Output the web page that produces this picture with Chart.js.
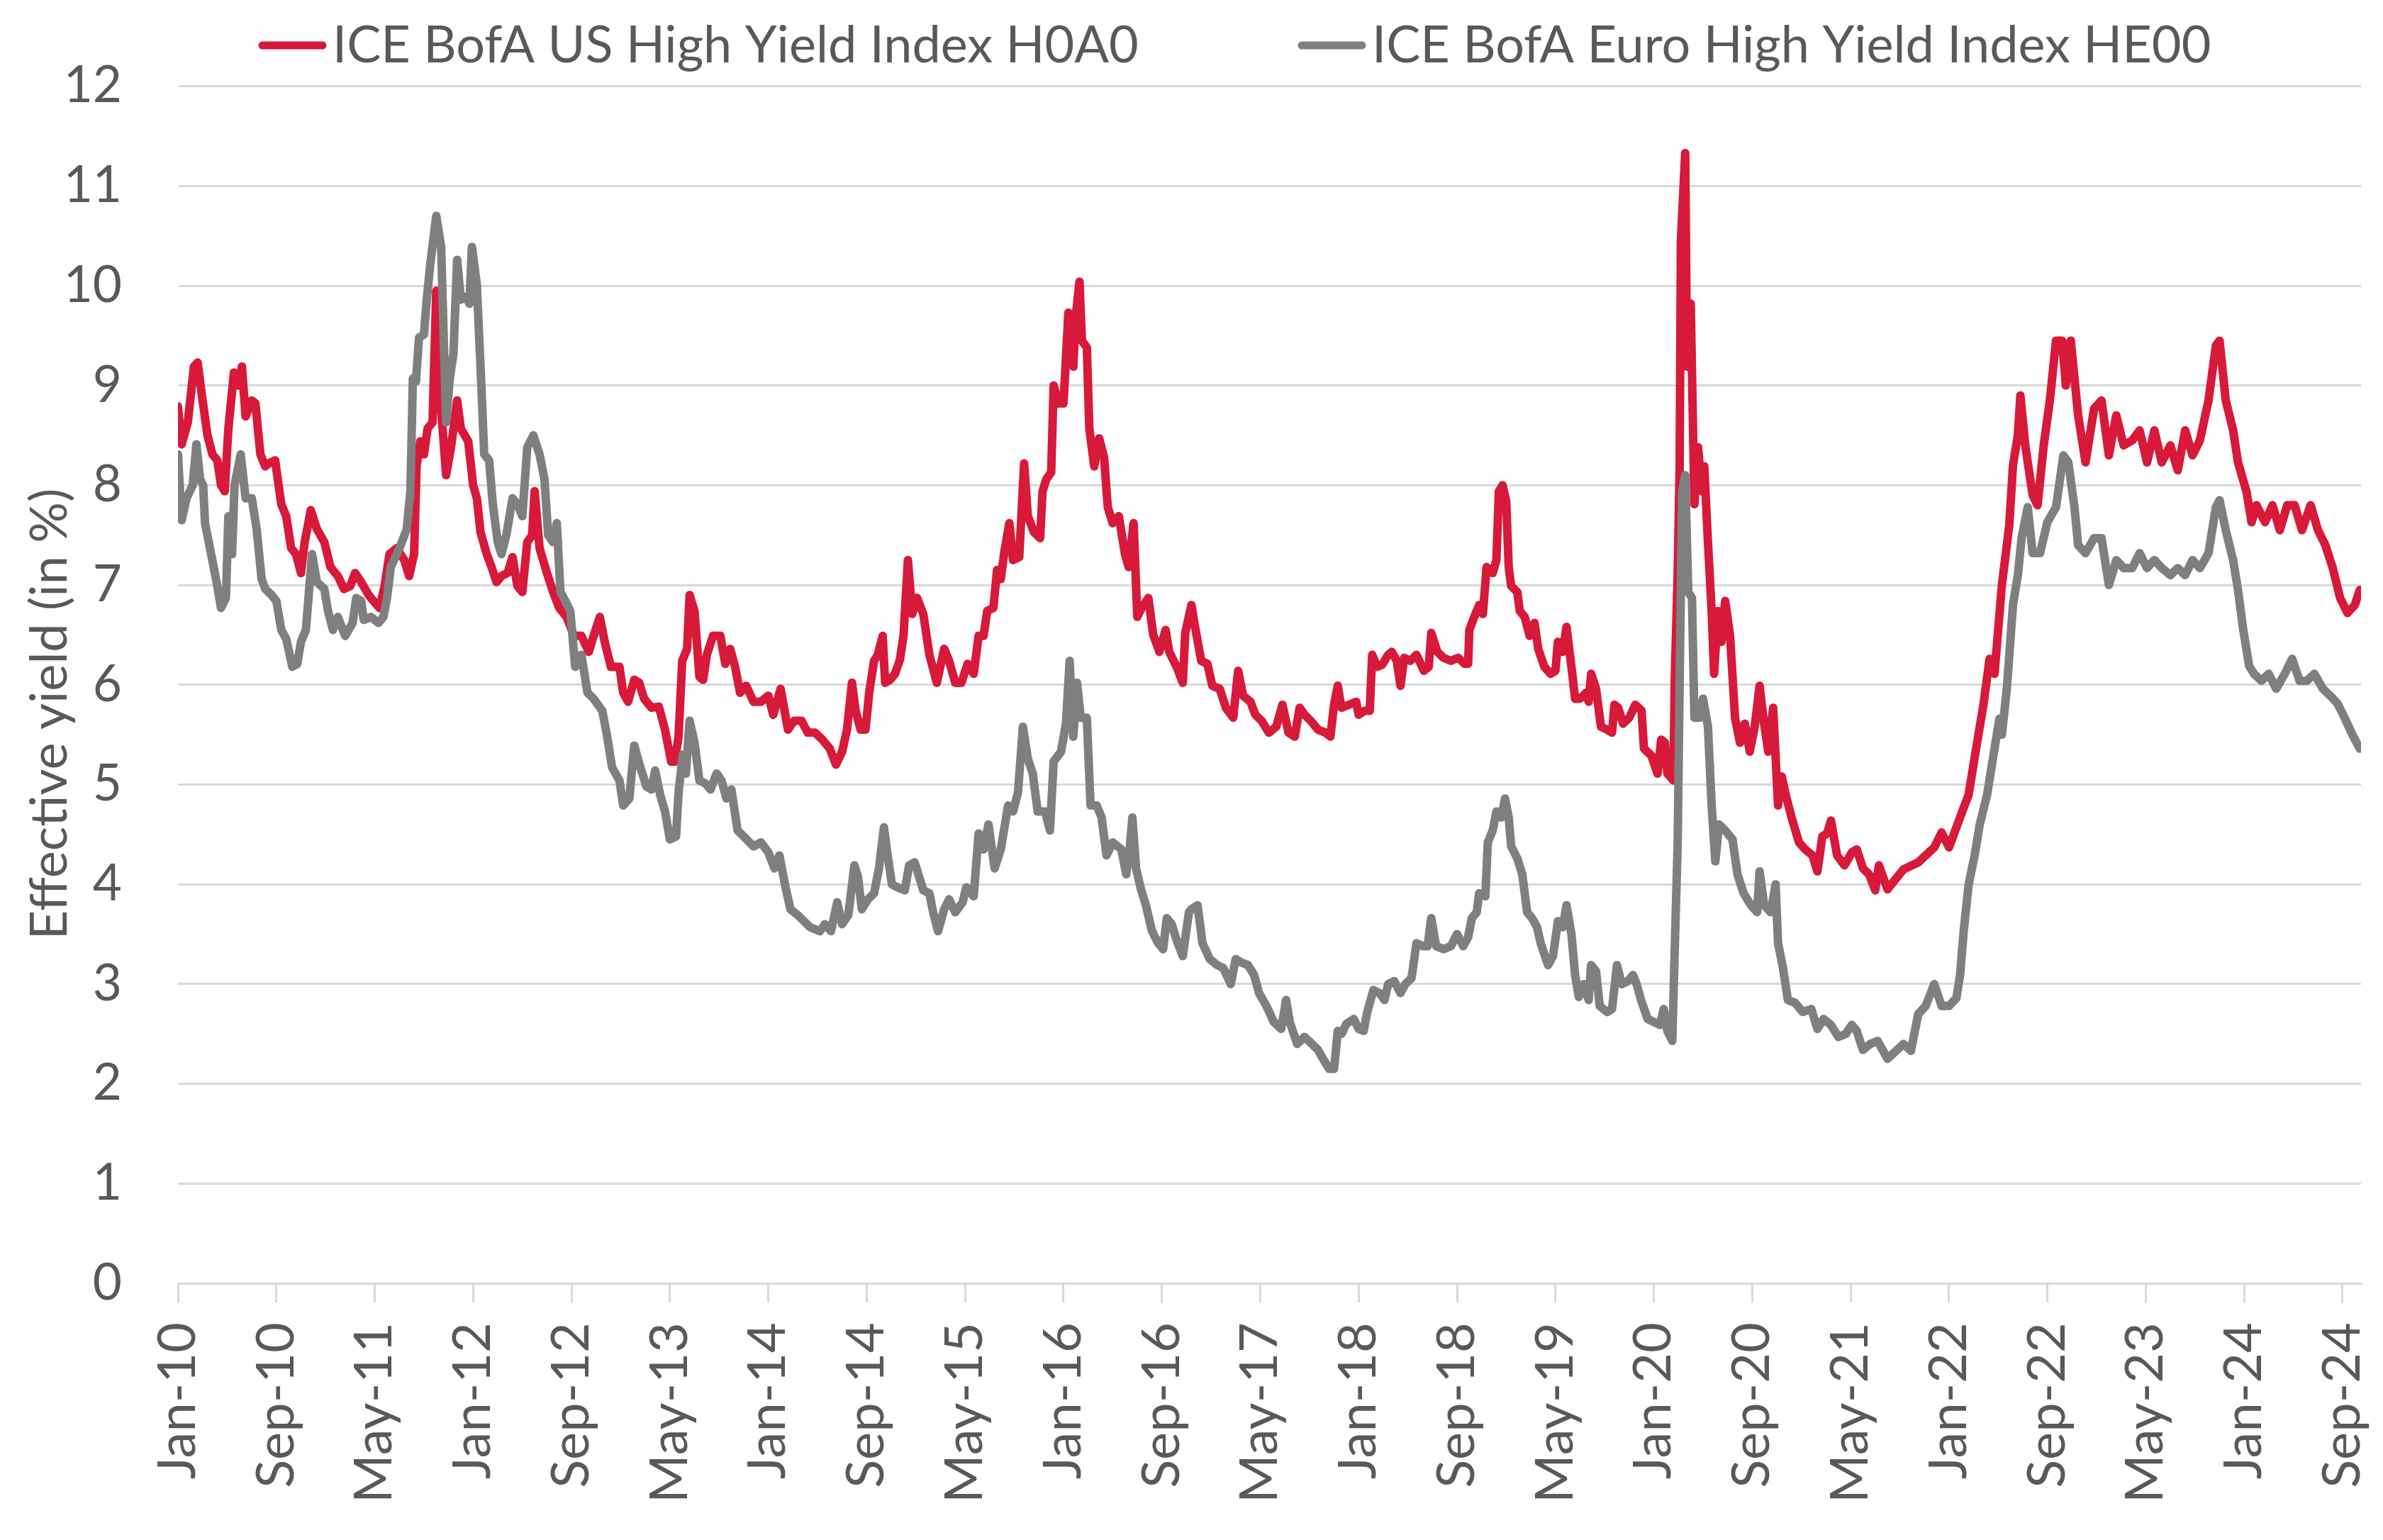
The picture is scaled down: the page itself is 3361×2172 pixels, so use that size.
<!DOCTYPE html>
<html>
<head>
<meta charset="utf-8">
<script src="https://cdn.jsdelivr.net/npm/chart.js@4.4.1/dist/chart.umd.min.js"></script>
<style>
  html, body { margin: 0; padding: 0; background: #ffffff; }
  #wrap { width: 3361px; height: 2172px; position: relative; }
</style>
</head>
<body>
<div id="wrap"><canvas id="c"></canvas></div>
<script>
// ---- Data (months since Jan 2010, yield in %) ----
const tickLabels = ['Jan-10','Sep-10','May-11','Jan-12','Sep-12','May-13','Jan-14','Sep-14','May-15','Jan-16','Sep-16','May-17','Jan-18','Sep-18','May-19','Jan-20','Sep-20','May-21','Jan-22','Sep-22','May-23','Jan-24','Sep-24'];
const seriesNames = ['ICE BofA US High Yield Index H0A0', 'ICE BofA Euro High Yield Index HE00'];
const axisTitle = 'Effective yield (in %)';

const usMonths = [0,0.3,0.8,1.3,1.6,2.0,2.4,2.8,3.2,3.5,3.8,4.1,4.55,4.9,5.2,5.5,6.0,6.3,6.7,7.1,7.4,7.9,8.4,8.8,9.2,9.6,10.0,10.3,10.8,11.3,11.9,12.4,13.0,13.5,14.0,14.4,14.9,15.5,15.9,16.4,16.8,17.2,17.8,18.4,18.8,19.2,19.4,19.7,20.0,20.3,20.7,21.0,21.2,21.6,21.8,22.2,22.7,23.0,23.6,24.0,24.3,24.6,25.1,25.5,25.9,26.3,26.8,27.2,27.6,28.0,28.4,28.8,29.0,29.4,30.0,30.5,31.0,31.6,32.2,32.8,33.4,33.8,34.3,34.7,35.2,35.9,36.2,36.6,37.1,37.5,37.9,38.5,39.1,39.6,40.1,40.4,40.7,41.0,41.4,41.6,42.0,42.4,42.7,43.0,43.5,44.1,44.5,44.9,45.3,45.7,46.2,46.8,47.4,48.0,48.4,49.0,49.6,50.1,50.7,51.2,51.8,52.4,53.0,53.5,54.0,54.4,54.8,55.1,55.5,55.9,56.2,56.6,56.9,57.3,57.5,57.9,58.3,58.7,59.0,59.35,59.7,60.1,60.6,61.1,61.7,62.3,62.7,63.2,63.7,64.2,64.7,65.1,65.5,65.8,66.3,66.6,66.9,67.2,67.6,67.9,68.4,68.8,69.1,69.6,70.1,70.3,70.6,71.0,71.2,71.6,72.0,72.4,72.8,73.0,73.3,73.5,73.9,74.1,74.5,74.9,75.3,75.6,76.0,76.5,77.0,77.3,77.7,78.0,78.4,78.9,79.3,79.8,80.3,80.6,81.2,81.7,81.9,82.4,82.7,83.2,83.7,84.1,84.7,85.2,85.8,86.2,86.6,87.2,87.6,88.1,88.7,89.3,89.8,90.3,90.8,91.2,91.6,92.1,92.7,93.3,93.7,94.0,94.3,94.6,95.2,95.8,96.0,96.5,96.9,97.1,97.5,97.9,98.4,98.7,99.1,99.4,99.7,100.2,100.7,101.3,101.7,101.9,102.4,102.9,103.5,104.1,104.6,104.9,105.0,105.4,105.8,106.1,106.4,106.9,107.2,107.4,107.7,108.0,108.2,108.4,108.9,109.1,109.5,109.9,110.3,110.6,111.1,111.6,112.0,112.2,112.6,112.9,113.3,113.6,114.0,114.5,114.7,114.9,115.3,115.7,116.2,116.6,116.8,117.1,117.5,118.0,118.5,119.0,119.2,119.8,120.3,120.6,120.9,121.1,121.6,121.7,121.94,122.1,122.2,122.55,122.7,123.0,123.3,123.6,123.9,124.1,124.4,124.7,124.9,125.2,125.5,125.8,126.2,126.6,127.0,127.4,127.8,128.2,128.6,128.9,129.3,129.7,130.1,130.4,130.8,131.2,131.8,132.3,132.9,133.3,133.7,134.1,134.4,134.9,135.5,136.1,136.5,137.0,137.5,138.0,138.3,139.0,140.3,141.5,142.8,143.4,144.0,144.9,145.6,146.2,146.8,147.3,147.7,148.3,148.9,149.2,149.6,149.8,150.2,150.8,151.2,151.7,152.2,152.7,153.2,153.5,153.9,154.5,155.1,155.8,156.4,157.0,157.6,158.2,158.9,159.5,160.1,160.7,161.3,162.0,162.6,163.2,163.8,164.4,165.1,165.7,166.0,166.5,167.1,167.5,168.2,168.6,169.0,169.7,170.3,170.9,171.5,172.1,172.7,173.4,174.0,174.6,175.2,175.8,176.4,177.0,177.4];
const usYields = [8.79,8.41,8.63,9.19,9.23,8.85,8.5,8.31,8.25,8.0,7.94,8.57,9.13,9.0,9.19,8.69,8.85,8.82,8.31,8.19,8.22,8.25,7.81,7.69,7.37,7.31,7.12,7.43,7.75,7.56,7.43,7.18,7.09,6.96,6.99,7.12,7.03,6.9,6.84,6.77,6.99,7.31,7.37,7.25,7.09,7.31,8.19,8.44,8.31,8.57,8.63,9.95,9.07,8.44,8.1,8.38,8.85,8.57,8.44,8.0,7.87,7.53,7.31,7.18,7.03,7.09,7.12,7.28,6.99,6.93,7.43,7.5,7.94,7.37,7.12,6.93,6.77,6.68,6.49,6.49,6.33,6.49,6.68,6.43,6.18,6.18,5.92,5.83,6.05,6.02,5.86,5.77,5.78,5.55,5.23,5.23,5.48,6.24,6.36,6.9,6.74,6.08,6.05,6.3,6.49,6.49,6.21,6.36,6.18,5.92,5.99,5.83,5.83,5.89,5.7,5.96,5.55,5.64,5.64,5.52,5.52,5.45,5.36,5.2,5.33,5.55,6.02,5.74,5.55,5.55,5.92,6.24,6.3,6.49,6.02,6.05,6.11,6.25,6.5,7.25,6.71,6.87,6.71,6.3,6.02,6.36,6.24,6.02,6.02,6.21,6.11,6.49,6.49,6.74,6.77,7.15,7.06,7.34,7.62,7.25,7.28,8.22,7.69,7.53,7.47,7.94,8.06,8.13,9.0,8.82,8.82,9.73,9.19,9.7,10.04,9.45,9.38,8.57,8.19,8.47,8.28,7.78,7.62,7.69,7.31,7.18,7.62,6.68,6.78,6.87,6.5,6.33,6.55,6.33,6.18,6.02,6.52,6.8,6.58,6.24,6.21,5.99,5.96,5.77,5.67,6.14,5.89,5.83,5.7,5.64,5.52,5.58,5.8,5.52,5.48,5.77,5.7,5.64,5.55,5.52,5.48,5.8,5.99,5.77,5.8,5.83,5.7,5.74,5.74,6.3,6.18,6.2,6.3,6.33,6.24,5.99,6.27,6.24,6.3,6.14,6.18,6.52,6.33,6.27,6.24,6.27,6.21,6.21,6.55,6.68,6.8,6.71,7.18,7.12,7.25,7.94,8.0,7.84,7.18,6.99,6.93,6.74,6.68,6.49,6.62,6.36,6.18,6.11,6.14,6.43,6.33,6.58,6.18,5.86,5.86,5.92,5.83,6.11,5.96,5.58,5.55,5.52,5.8,5.77,5.61,5.67,5.8,5.74,5.36,5.29,5.11,5.45,5.42,5.11,5.04,6.05,7.12,8.19,10.45,11.33,9.19,9.82,7.81,8.38,7.94,8.19,7.43,6.74,6.11,6.74,6.43,6.84,6.49,5.67,5.42,5.61,5.33,5.58,5.99,5.67,5.33,5.77,4.79,5.08,4.86,4.67,4.42,4.35,4.29,4.13,4.48,4.51,4.64,4.29,4.19,4.32,4.35,4.16,4.1,3.94,4.19,3.95,4.15,4.22,4.37,4.52,4.37,4.67,4.9,5.36,5.8,6.26,6.11,7.0,7.6,8.2,8.5,8.9,8.4,7.9,7.8,8.4,8.85,9.45,9.45,9.0,9.45,8.7,8.23,8.77,8.85,8.3,8.7,8.4,8.45,8.55,8.23,8.55,8.23,8.4,8.15,8.55,8.3,8.45,8.85,9.4,9.45,8.85,8.55,8.23,7.93,7.63,7.8,7.63,7.8,7.55,7.8,7.8,7.55,7.8,7.55,7.4,7.17,6.87,6.72,6.8,6.95];

const euMonths = [0,0.3,0.7,1.2,1.5,1.8,2.05,2.2,2.6,3.0,3.2,3.5,3.9,4.1,4.4,4.6,5.1,5.5,6.0,6.4,6.8,7.1,7.6,8.0,8.4,8.8,9.3,9.7,10.0,10.4,10.9,11.3,11.9,12.2,12.6,13.0,13.6,14.2,14.5,14.9,15.1,15.7,16.3,16.7,17.0,17.3,17.8,18.2,18.6,18.9,19.1,19.35,19.6,20.0,20.2,20.5,21.0,21.4,21.6,21.8,22.1,22.4,22.7,23.0,23.4,23.7,23.9,24.3,24.6,24.9,25.3,25.6,26.0,26.3,26.7,27.2,27.6,28.0,28.4,28.9,29.4,29.8,30.1,30.5,30.8,31.1,31.5,31.9,32.3,32.8,33.3,33.8,34.5,34.9,35.3,35.9,36.2,36.7,37.1,37.6,38.1,38.5,38.8,39.2,39.6,40.0,40.5,40.7,41.05,41.3,41.6,42.0,42.4,42.9,43.3,43.8,44.2,44.6,45.0,45.5,46.0,46.8,47.4,48.0,48.5,48.9,49.4,49.8,50.4,50.9,51.4,52.2,52.6,53.1,53.6,54.0,54.5,55.0,55.3,55.6,56.1,56.6,57.0,57.4,57.7,58.05,58.5,59.1,59.45,59.9,60.6,61.1,61.4,61.8,62.3,62.7,63.2,63.8,64.1,64.7,65.1,65.5,65.9,66.4,66.9,67.5,67.9,68.3,68.7,69.1,69.5,69.9,70.5,70.9,71.2,71.8,72.2,72.5,72.8,73.1,73.4,73.9,74.2,74.7,75.1,75.5,76.0,76.7,77.1,77.4,77.6,77.9,78.3,78.7,79.2,79.7,80.1,80.4,80.8,81.2,81.7,82.2,82.4,82.9,83.3,83.9,84.5,85.0,85.6,86.0,86.4,87.0,87.5,87.9,88.5,89.1,89.7,90.1,90.4,91.0,91.6,92.2,92.7,93.1,93.6,94.0,94.3,94.6,95.0,95.6,96.0,96.4,96.7,97.2,97.7,98.1,98.4,98.9,99.4,99.8,100.3,100.7,101.2,101.6,101.9,102.3,102.9,103.5,104.0,104.5,104.9,105.2,105.6,105.8,106.3,106.5,106.9,107.2,107.6,107.9,108.2,108.4,108.9,109.3,109.7,110.1,110.5,110.8,111.4,111.8,112.2,112.6,112.9,113.3,113.6,113.9,114.3,114.7,114.9,115.3,115.6,116.2,116.6,117.0,117.4,117.9,118.3,118.6,118.96,119.5,120.0,120.5,120.8,121.1,121.5,121.7,121.94,122.1,122.3,122.55,122.8,123.1,123.3,123.7,124.0,124.4,124.7,125.0,125.3,125.8,126.4,126.8,127.3,127.9,128.4,128.6,128.97,129.5,129.9,130.1,130.5,130.9,131.5,132.1,132.8,133.3,133.8,134.4,135.0,135.6,136.1,136.5,137.0,137.6,138.2,139.0,140.3,140.9,141.5,142.1,142.8,143.4,144.0,144.6,144.9,145.2,145.6,146.1,146.5,147.1,147.7,148.1,148.3,148.7,149.2,149.6,149.9,150.4,150.8,151.4,152.0,152.7,153.3,153.7,154.2,154.5,155.1,155.8,156.4,157.0,157.6,158.2,158.9,159.5,160.1,160.7,161.3,162.0,162.6,163.2,163.8,164.4,165.1,165.7,166.0,166.5,167.1,167.5,167.9,168.4,168.8,169.4,170.0,170.6,171.3,171.9,172.5,173.1,173.7,174.4,175.0,175.6,176.2,176.8,177.4];
const euYields = [8.31,7.65,7.87,8.0,8.41,8.06,8.0,7.62,7.37,7.12,6.99,6.77,6.87,7.69,7.31,8.0,8.31,7.87,7.87,7.56,7.06,6.96,6.9,6.84,6.55,6.46,6.18,6.21,6.43,6.55,7.31,7.03,6.96,6.74,6.55,6.68,6.49,6.62,6.87,6.84,6.65,6.68,6.62,6.68,6.87,7.18,7.31,7.43,7.56,7.94,9.07,9.04,9.48,9.51,9.82,10.2,10.7,10.39,9.51,8.63,9.07,9.32,10.26,9.86,9.89,9.82,10.39,10.01,9.19,8.31,8.25,7.81,7.43,7.31,7.5,7.87,7.81,7.69,8.38,8.5,8.31,8.06,7.5,7.43,7.62,6.93,6.84,6.74,6.18,6.3,5.92,5.86,5.74,5.48,5.17,5.04,4.79,4.86,5.39,5.17,4.98,4.95,5.14,4.9,4.73,4.45,4.48,4.92,5.3,5.11,5.64,5.42,5.04,5.01,4.95,5.11,5.04,4.86,4.95,4.54,4.48,4.38,4.42,4.32,4.16,4.29,3.97,3.75,3.69,3.63,3.57,3.53,3.6,3.53,3.82,3.6,3.69,4.19,4.07,3.75,3.85,3.91,4.16,4.57,4.29,4.0,3.97,3.94,4.19,4.22,3.94,3.91,3.72,3.53,3.75,3.85,3.72,3.82,3.97,3.88,4.51,4.35,4.6,4.16,4.35,4.79,4.73,4.92,5.58,5.26,5.11,4.73,4.73,4.54,5.23,5.33,5.61,6.24,5.48,6.02,5.67,5.67,4.79,4.79,4.67,4.29,4.42,4.35,4.1,4.38,4.67,4.16,3.95,3.79,3.53,3.41,3.35,3.66,3.6,3.44,3.28,3.72,3.75,3.79,3.41,3.25,3.19,3.16,3.0,3.25,3.22,3.19,3.09,2.91,2.78,2.62,2.55,2.84,2.62,2.4,2.47,2.4,2.34,2.25,2.15,2.15,2.53,2.5,2.6,2.65,2.55,2.53,2.72,2.94,2.91,2.84,3.0,3.03,2.91,3.0,3.06,3.41,3.38,3.38,3.66,3.38,3.35,3.38,3.5,3.38,3.47,3.66,3.72,3.91,3.88,4.42,4.54,4.73,4.67,4.86,4.67,4.38,4.26,4.1,3.72,3.66,3.57,3.41,3.19,3.28,3.63,3.57,3.79,3.5,3.09,2.87,3.0,2.84,3.19,3.13,2.78,2.72,2.75,3.19,3.0,3.03,3.09,3.0,2.84,2.65,2.62,2.59,2.75,2.53,2.43,3.35,4.42,6.05,7.94,8.1,6.93,6.87,5.67,5.67,5.86,5.58,4.79,4.23,4.6,4.54,4.45,4.1,3.91,3.79,3.72,4.13,3.79,3.72,4.0,3.41,3.16,2.84,2.81,2.72,2.75,2.55,2.65,2.59,2.47,2.5,2.59,2.53,2.34,2.4,2.43,2.25,2.4,2.33,2.7,2.78,3.0,2.78,2.78,2.86,3.09,3.54,4.0,4.3,4.6,4.9,5.36,5.66,5.5,5.96,6.8,7.1,7.47,7.78,7.32,7.32,7.63,7.78,8.3,8.23,7.78,7.4,7.32,7.47,7.47,7.0,7.25,7.17,7.17,7.32,7.17,7.25,7.17,7.1,7.17,7.1,7.25,7.17,7.32,7.78,7.85,7.55,7.25,6.95,6.57,6.19,6.11,6.04,6.11,5.96,6.11,6.26,6.04,6.04,6.11,5.96,5.89,5.81,5.66,5.5,5.36];

// ---- Styling ----
const FONT = 'Lato, "Open Sans", sans-serif';
const TEXT = '#595959';
const GRID = '#d9d9d9';
const RED = '#d7193a';
const GREY = '#7f7f7f';

const toPts = (xs, ys) => xs.map((m, i) => ({ x: m, y: ys[i] }));

const decorPlugin = {
  id: 'decor',
  afterDraw(chart) {
    const ctx = chart.ctx;
    const items = [
      { ds: 0, x0: 365 },
      { ds: 1, x0: 1831 }
    ];
    ctx.save();
    items.forEach(it => {
      const ds = chart.data.datasets[it.ds];
      ctx.strokeStyle = ds.borderColor;
      ctx.lineWidth = 11;
      ctx.lineCap = 'round';
      ctx.beginPath();
      ctx.moveTo(it.x0 + 5, 64);
      ctx.lineTo(it.x0 + 90, 64);
      ctx.stroke();
      ctx.fillStyle = TEXT;
      ctx.font = '72px ' + FONT;
      ctx.textBaseline = 'alphabetic';
      ctx.textAlign = 'left';
      ctx.fillText(ds.label, it.x0 + 104, 88);
    });
    // y-axis title
    ctx.translate(71, 1007);
    ctx.rotate(-Math.PI / 2);
    ctx.fillStyle = TEXT;
    ctx.font = '72px ' + FONT;
    ctx.textAlign = 'center';
    ctx.textBaseline = 'middle';
    ctx.fillText(axisTitle, 0, 0);
    ctx.restore();
  }
};

new Chart(document.getElementById('c'), {
  type: 'line',
  data: {
    datasets: [
      { label: seriesNames[0], data: toPts(usMonths, usYields), borderColor: RED, backgroundColor: RED,
        borderWidth: 12, pointRadius: 0, tension: 0, borderJoinStyle: 'round', borderCapStyle: 'round', order: 1 },
      { label: seriesNames[1], data: toPts(euMonths, euYields), borderColor: GREY, backgroundColor: GREY,
        borderWidth: 12, pointRadius: 0, tension: 0, borderJoinStyle: 'round', borderCapStyle: 'round', order: 0 }
    ]
  },
  options: {
    responsive: true,
    maintainAspectRatio: false,
    animation: false,
    devicePixelRatio: 1,
    layout: { padding: { top: 109, right: 31, bottom: 0, left: 0 } },
    plugins: { legend: { display: false }, tooltip: { enabled: false } },
    scales: {
      x: {
        type: 'linear',
        min: 0,
        max: 177.5,
        afterBuildTicks: (axis) => { axis.ticks = tickLabels.map((_, i) => ({ value: i * 8 })); },
        afterFit: (scale) => { scale.height = 2172 - 1810; scale.paddingLeft = 0; scale.paddingRight = 0; },
        border: { display: true, color: GRID, width: 3 },
        grid: { drawOnChartArea: false, drawTicks: true, tickLength: 27, color: GRID, lineWidth: 3 },
        ticks: {
          autoSkip: false, maxRotation: 90, minRotation: 90, padding: 28,
          color: TEXT, font: { family: FONT, size: 74 },
          callback: (v) => tickLabels[Math.round(v / 8)]
        }
      },
      y: {
        min: 0,
        max: 12,
        afterFit: (scale) => { scale.width = 251; },
        border: { display: false },
        grid: { color: GRID, lineWidth: 3, drawTicks: false },
        ticks: { stepSize: 1, padding: 79, color: TEXT, font: { family: FONT, size: 71 } }
      }
    }
  },
  plugins: [decorPlugin]
});
</script>
</body>
</html>
